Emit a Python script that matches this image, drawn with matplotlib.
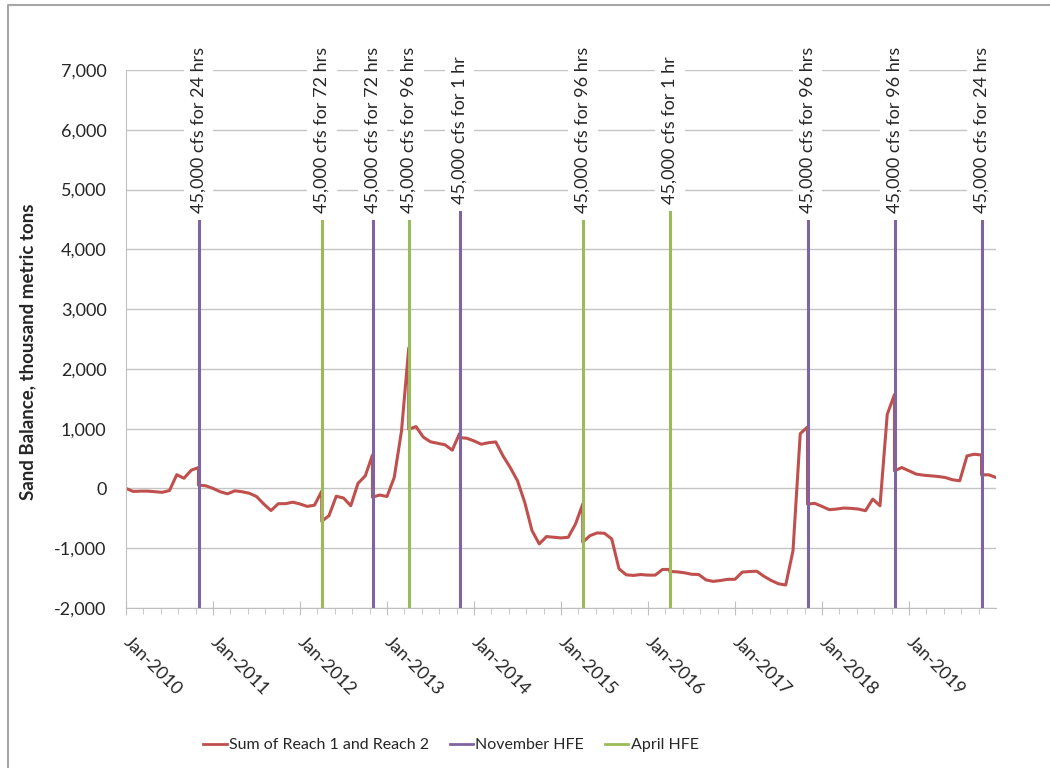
import matplotlib.pyplot as plt
from matplotlib.lines import Line2D
from matplotlib.ticker import FuncFormatter

plt.rcParams['font.family'] = ['Lato', 'DejaVu Sans']

# months since Jan-2010, monthly sand balance (thousand metric tons)
months = list(range(121))
balance = [
    0, -50, -45, -45, -55, -65, -35, 230, 170, 305,
    350, 45, 0, -55, -90, -40, -55, -80, -135, -260,
    -370, -255, -255, -230, -260, -300, -280, -45, -455, -130,
    -160, -290, 85, 210, 560, -110, -135, 185, 960, 2350,
    1035, 860, 780, 755, 730, 640, 917, 840, 795, 740,
    765, 778, 545, 350, 128, -233, -705, -928, -805, -817,
    -828, -817, -595, -261, -789, -744, -750, -845, -1345, -1445,
    -1455, -1440, -1450, -1450, -1355, -1355, -1395, -1410, -1435, -1440,
    -1530, -1555, -1540, -1520, -1520, -1400, -1390, -1385, -1470, -1540,
    -1595, -1615, -1040, 917, 1028, -250, -300, -355, -345, -328,
    -333, -345, -372, -178, -290, 1240, 1572, 350, 295, 240,
    222, 211, 200, 183, 145, 128, 545, 572, 560, 228,
    183,
]

# high flow experiments
hfe_months = [10, 27, 34, 39, 46, 63, 75, 94, 106, 118]
hfe_season = ['Nov', 'Apr', 'Nov', 'Apr', 'Nov', 'Apr', 'Apr', 'Nov', 'Nov', 'Nov']
hfe_after = [55, -550, -145, 990, 850, -900, -1390, -261, 295, 228]
hfe_labels = ['45,000 cfs for 24 hrs', '45,000 cfs for 72 hrs', '45,000 cfs for 72 hrs',
              '45,000 cfs for 96 hrs', '45,000 cfs for 1 hr', '45,000 cfs for 96 hrs',
              '45,000 cfs for 1 hr', '45,000 cfs for 96 hrs', '45,000 cfs for 96 hrs',
              '45,000 cfs for 24 hrs']

year_labels = ['Jan-%d' % y for y in range(2010, 2020)]

red = '#C0504D'
purple = '#8064A2'
green = '#9BBB59'
txt = '#262626'

# series with the step right after each HFE
xs, ys = [], []
for m, v in zip(months, balance):
    xs.append(m)
    ys.append(v)
    if m in hfe_months:
        xs.append(m)
        ys.append(hfe_after[hfe_months.index(m)])

fig = plt.figure(figsize=(10.5, 7.68), dpi=100)
ax = fig.add_axes([126 / 1050, 1 - 608 / 768, 870 / 1050, 538 / 768])

ax.plot(xs, ys, color=red, lw=2.2, zorder=2)

nov = [m for m, s in zip(hfe_months, hfe_season) if s == 'Nov']
apr = [m for m, s in zip(hfe_months, hfe_season) if s == 'Apr']
ax.vlines(nov, -2000, 6000, color=purple, lw=2.2, zorder=3)
ax.vlines(apr, -2000, 6000, color=green, lw=2.2, zorder=3)

for m, lab in zip(hfe_months, hfe_labels):
    ax.text(m, 6000, lab, rotation=90, ha='center', va='center', fontsize=13,
            color=txt, zorder=5, clip_on=False,
            bbox=dict(facecolor='white', edgecolor='none', pad=5))

ax.set_xlim(0, 120)
ax.set_ylim(-2000, 7000)
ax.set_yticks(range(-2000, 7001, 1000))
ax.yaxis.set_major_formatter(FuncFormatter(lambda v, p: '{:,}'.format(int(v))))
ax.tick_params(axis='y', length=0, pad=14, labelsize=13, labelcolor=txt)

ax.set_xticks(range(0, 120, 12))
ax.set_xticklabels(year_labels, rotation=-45, ha='left', va='center',
                   rotation_mode='anchor', fontsize=13, color=txt)
ax.set_xticks([i * 2.4 for i in range(50)], minor=True)
ax.tick_params(axis='x', which='major', direction='inout', length=10,
               color='#BFBFBF', pad=18)
ax.tick_params(axis='x', which='minor', direction='out', length=4, color='#BFBFBF')

ax.yaxis.grid(True, color='#C4C4C4', lw=1)
ax.set_axisbelow(True)
for s in ['top', 'right']:
    ax.spines[s].set_visible(False)
ax.spines['left'].set_color('#BFBFBF')
ax.spines['bottom'].set_color('#BFBFBF')

fig.text(28 / 1050, 1 - 352 / 768, 'Sand Balance, thousand metric tons',
         rotation=90, ha='center', va='center', fontsize=13.5, fontweight='bold',
         color=txt)

handles = [Line2D([], [], color=red, lw=2),
           Line2D([], [], color=purple, lw=2),
           Line2D([], [], color=green, lw=2)]
fig.legend(handles, ['Sum of Reach 1 and Reach 2', 'November HFE', 'April HFE'],
           loc='center', bbox_to_anchor=(451 / 1050, 1 - 745 / 768), ncol=3,
           frameon=False, fontsize=11.5, handlelength=1.45, handletextpad=0.15,
           columnspacing=1.3, labelcolor=txt)

# chart area border
fig.add_artist(Line2D([8 / 1050, 8 / 1050, 1], [0, 1 - 5 / 768, 1 - 5 / 768],
                      transform=fig.transFigure, color='#A6A6A6', lw=1.5))

fig.savefig('out.png', dpi=100)
